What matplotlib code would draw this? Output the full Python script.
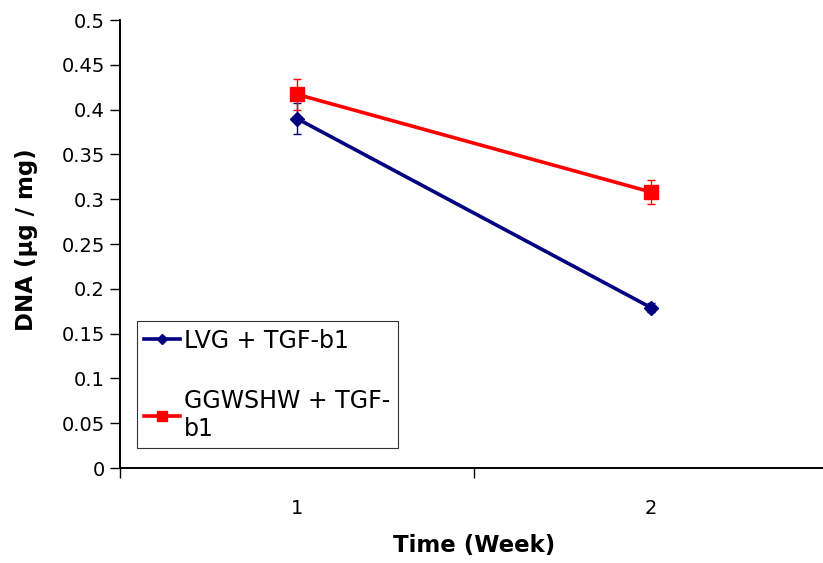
import matplotlib
matplotlib.use("Agg")
import matplotlib.pyplot as plt
from matplotlib.lines import Line2D
from matplotlib.ticker import FixedLocator

plt.rcParams['font.family'] = ['DejaVu Sans']

weeks = [1, 2]
week_labels = ['1', '2']
lvg = [0.390, 0.179]
lvg_err = [0.017, 0.005]
ggw = [0.417, 0.308]
ggw_err = [0.017, 0.013]
series_names = ['LVG + TGF-b1', 'GGWSHW + TGF-\nb1']
blue = '#000080'
red = '#FF0000'

fig = plt.figure(figsize=(8.23, 5.63), dpi=100)
ax = fig.add_axes([120 / 823, 1 - 468 / 563, 708 / 823, 448 / 563])

ax.errorbar(weeks, lvg, yerr=lvg_err, color=blue, ecolor=blue,
            marker='D', markersize=7, linewidth=2.6, elinewidth=1,
            capsize=3, capthick=1, zorder=3)
ax.errorbar(weeks, ggw, yerr=ggw_err, color=red, ecolor=red,
            marker='s', markersize=10, linewidth=2.6, elinewidth=1,
            capsize=3, capthick=1, zorder=4)

ax.set_xlim(0.5, 2.5)
ax.set_ylim(0, 0.5)
ax.set_yticks([i * 0.05 for i in range(11)])
ax.set_yticklabels(['0', '0.05', '0.1', '0.15', '0.2', '0.25', '0.3',
                    '0.35', '0.4', '0.45', '0.5'])
ax.set_xticks(weeks)
ax.set_xticklabels(week_labels)
ax.xaxis.set_minor_locator(FixedLocator([0.5, 1.5, 2.5]))
ax.tick_params(axis='x', which='major', length=0, pad=22, labelsize=14)
ax.tick_params(axis='x', which='minor', length=7, direction='out', width=1)
ax.tick_params(axis='y', length=7, direction='out', width=1, labelsize=14, pad=4)

for side in ['top', 'right']:
    ax.spines[side].set_visible(False)
for side in ['left', 'bottom']:
    ax.spines[side].set_linewidth(1.4)

ax.set_xlabel('Time (Week)', fontsize=16.5, fontweight='bold')
ax.xaxis.set_label_coords(0.5, -66 / 448)
ax.set_ylabel('DNA (μg / mg)', fontsize=16.5, fontweight='bold')
ax.yaxis.set_label_coords(-82 / 708, 0.51)

handles = [
    Line2D([], [], color=blue, marker='D', markersize=5, linewidth=2.6),
    Line2D([], [], color=red, marker='s', markersize=7, linewidth=2.6),
]
leg = ax.legend(handles, series_names, loc='lower left',
                bbox_to_anchor=(17 / 708, 20 / 448),
                fontsize=17, frameon=True, fancybox=False, edgecolor='black',
                handlelength=1.5, handletextpad=0.2, labelspacing=1.55,
                borderpad=0.3, borderaxespad=0)
leg.get_frame().set_linewidth(0.8)

fig.savefig('out.png', dpi=100)
